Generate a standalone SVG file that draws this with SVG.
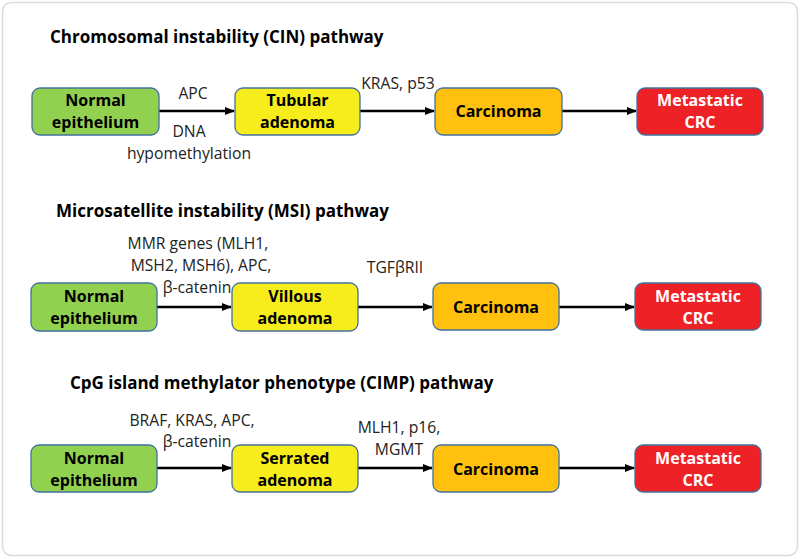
<svg xmlns="http://www.w3.org/2000/svg" width="800" height="560" viewBox="0 0 800 560">
<defs>
<marker id="ah" markerWidth="10" markerHeight="8" refX="9" refY="4" orient="auto" markerUnits="userSpaceOnUse">
<path d="M0,0 L10,4 L0,8 Z" fill="#000"/>
</marker>
<style>
.frame{fill:#fff;stroke:#dcdcdc;stroke-width:1.5}
.node rect{stroke:#41719C;stroke-width:1.3}
.g{fill:#92D050}.y{fill:#F7EC1C}.o{fill:#FFC10E}.r{fill:#EE2127}
.nt{font-family:"Open Sans","Liberation Sans",sans-serif;font-weight:bold;font-size:16px;text-anchor:middle;fill:#000}
.wt{fill:#fff}
.title{font-family:"Open Sans","Liberation Sans",sans-serif;font-weight:bold;font-size:17px;fill:#000}
.lb{font-family:"Open Sans","Liberation Sans",sans-serif;font-size:15.7px;text-anchor:middle;fill:#222}
.conn line{stroke:#000;stroke-width:2.5;marker-end:url(#ah)}
</style>
</defs>
<rect class="frame" x="2.5" y="2.5" width="795" height="553" rx="9"/>

<text class="title" x="50" y="43">Chromosomal instability (CIN) pathway</text>
<text class="title" x="56" y="217">Microsatellite instability (MSI) pathway</text>
<text class="title" x="70" y="389">CpG island methylator phenotype (CIMP) pathway</text>

<g class="conn">
<line x1="159" y1="111" x2="234" y2="111"/>
<line x1="360" y1="111" x2="434" y2="111"/>
<line x1="562" y1="111" x2="636" y2="111"/>
<line x1="157" y1="307" x2="231" y2="307"/>
<line x1="358" y1="307" x2="432" y2="307"/>
<line x1="559" y1="307" x2="634" y2="307"/>
<line x1="157" y1="468" x2="231" y2="468"/>
<line x1="358" y1="468" x2="432" y2="468"/>
<line x1="559" y1="468" x2="634" y2="468"/>
</g>

<g id="labels">
<text class="lb" x="193" y="99">APC</text>
<text class="lb" x="189" y="137">DNA</text>
<text class="lb" x="189" y="159">hypomethylation</text>
<text class="lb" x="398" y="89">KRAS, p53</text>
<text class="lb" x="198" y="249">MMR genes (MLH1,</text>
<text class="lb" x="201" y="271">MSH2, MSH6), APC,</text>
<text class="lb" x="197" y="293">β-catenin</text>
<text class="lb" x="395" y="273">TGFβRII</text>
<text class="lb" x="192" y="426">BRAF, KRAS, APC,</text>
<text class="lb" x="197" y="447">β-catenin</text>
<text class="lb" x="399" y="433">MLH1, p16,</text>
<text class="lb" x="399" y="455">MGMT</text>
</g>

<g id="cin-normal" class="node"><rect class="g" x="32" y="88" width="127" height="47" rx="8"/><text class="nt" x="95.5" y="106">Normal</text><text class="nt" x="95.5" y="128">epithelium</text></g>
<g id="cin-tubular" class="node"><rect class="y" x="235" y="88" width="125" height="47" rx="8"/><text class="nt" x="297.5" y="106">Tubular</text><text class="nt" x="297.5" y="128">adenoma</text></g>
<g id="cin-carcinoma" class="node"><rect class="o" x="435" y="88" width="127" height="47" rx="8"/><text class="nt" x="498.5" y="117">Carcinoma</text></g>
<g id="cin-metastatic" class="node"><rect class="r" x="637" y="88" width="126" height="47" rx="8"/><text class="nt wt" x="700" y="106">Metastatic</text><text class="nt wt" x="700" y="128">CRC</text></g>

<g id="msi-normal" class="node"><rect class="g" x="31" y="283" width="126" height="48" rx="8"/><text class="nt" x="94" y="302">Normal</text><text class="nt" x="94" y="324">epithelium</text></g>
<g id="msi-villous" class="node"><rect class="y" x="232" y="283" width="126" height="48" rx="8"/><text class="nt" x="295" y="302">Villous</text><text class="nt" x="295" y="324">adenoma</text></g>
<g id="msi-carcinoma" class="node"><rect class="o" x="433" y="283" width="126" height="47" rx="8"/><text class="nt" x="496" y="313">Carcinoma</text></g>
<g id="msi-metastatic" class="node"><rect class="r" x="635" y="283" width="126" height="47" rx="8"/><text class="nt wt" x="698" y="302">Metastatic</text><text class="nt wt" x="698" y="324">CRC</text></g>

<g id="cimp-normal" class="node"><rect class="g" x="31" y="445" width="126" height="47" rx="8"/><text class="nt" x="94" y="464">Normal</text><text class="nt" x="94" y="486">epithelium</text></g>
<g id="cimp-serrated" class="node"><rect class="y" x="232" y="445" width="126" height="47" rx="8"/><text class="nt" x="295" y="464">Serrated</text><text class="nt" x="295" y="486">adenoma</text></g>
<g id="cimp-carcinoma" class="node"><rect class="o" x="433" y="445" width="126" height="47" rx="8"/><text class="nt" x="496" y="475">Carcinoma</text></g>
<g id="cimp-metastatic" class="node"><rect class="r" x="635" y="445" width="126" height="47" rx="8"/><text class="nt wt" x="698" y="464">Metastatic</text><text class="nt wt" x="698" y="486">CRC</text></g>
</svg>
